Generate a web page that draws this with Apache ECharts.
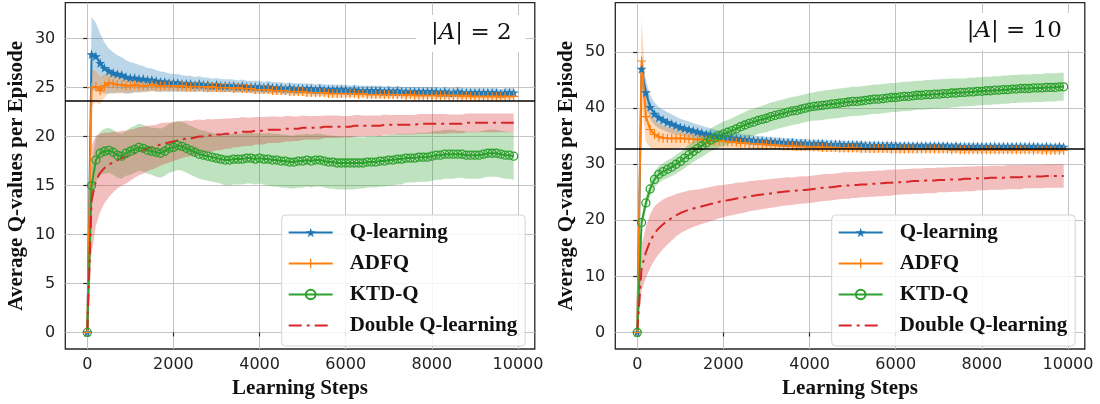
<!DOCTYPE html>
<html>
<head>
<meta charset="utf-8">
<script src="https://cdn.jsdelivr.net/npm/echarts@6/dist/echarts.min.js"></script>
<style>
html, body { margin: 0; padding: 0; background: #fff; }
#chart { width: 1100px; height: 404px; }
</style>
</head>
<body>
<div id="chart"></div>
<script>
// Learning steps at which the Q-value averages were recorded
const steps = [
  0, 100, 200, 300, 400, 500, 600, 700, 800, 900,
  1000, 1100, 1200, 1300, 1400, 1500, 1600, 1700, 1800, 1900,
  2000, 2100, 2200, 2300, 2400, 2500, 2600, 2700, 2800, 2900,
  3000, 3100, 3200, 3300, 3400, 3500, 3600, 3700, 3800, 3900,
  4000, 4100, 4200, 4300, 4400, 4500, 4600, 4700, 4800, 4900,
  5000, 5100, 5200, 5300, 5400, 5500, 5600, 5700, 5800, 5900,
  6000, 6100, 6200, 6300, 6400, 6500, 6600, 6700, 6800, 6900,
  7000, 7100, 7200, 7300, 7400, 7500, 7600, 7700, 7800, 7900,
  8000, 8100, 8200, 8300, 8400, 8500, 8600, 8700, 8800, 8900,
  9000, 9100, 9200, 9300, 9400, 9500, 9600, 9700, 9800, 9900
];

const methodNames = ['Q-learning', 'ADFQ', 'KTD-Q', 'Double Q-learning'];
const panelActionCounts = ['2', '10'];

// Tick values
const xTicks = [0, 2000, 4000, 6000, 8000, 10000];
const yTicksA2 = [0, 5, 10, 15, 20, 25, 30];
const yTicksA10 = [0, 10, 20, 30, 40, 50];

// True optimal Q-value reference lines
const optimalA2 = 23.7;
const optimalA10 = 32.8;

// ---------- |A| = 2 : means and standard deviations ----------
const qLearnA2 = [
  0, 28.4, 28.2, 27.5, 27.0, 26.7, 26.5, 26.4, 26.3, 26.1,
  26.0, 26.0, 25.9, 25.9, 25.8, 25.8, 25.7, 25.6, 25.6, 25.5,
  25.5, 25.5, 25.4, 25.4, 25.4, 25.3, 25.4, 25.3, 25.3, 25.2,
  25.3, 25.2, 25.2, 25.2, 25.2, 25.1, 25.2, 25.1, 25.1, 25.1,
  25.1, 25.0, 25.1, 25.0, 25.0, 25.0, 24.9, 25.0, 24.9, 24.9,
  24.9, 24.9, 24.9, 24.8, 24.9, 24.8, 24.8, 24.8, 24.8, 24.8,
  24.8, 24.7, 24.8, 24.7, 24.7, 24.7, 24.7, 24.7, 24.7, 24.6,
  24.7, 24.6, 24.7, 24.6, 24.6, 24.6, 24.6, 24.6, 24.6, 24.6,
  24.6, 24.6, 24.5, 24.6, 24.5, 24.5, 24.6, 24.5, 24.5, 24.5,
  24.5, 24.5, 24.5, 24.5, 24.5, 24.5, 24.4, 24.5, 24.5, 24.5
];
const qLearnA2Std = [
  0, 3.8, 3.4, 3.0, 2.6, 2.3, 2.1, 1.9, 1.8, 1.7,
  1.6, 1.5, 1.4, 1.3, 1.2, 1.15, 1.1, 1.05, 1.0, 0.95,
  0.9, 0.88, 0.85, 0.82, 0.8, 0.78, 0.76, 0.74, 0.72, 0.7,
  0.68, 0.67, 0.66, 0.65, 0.64, 0.63, 0.62, 0.61, 0.6, 0.6,
  0.59, 0.58, 0.58, 0.57, 0.56, 0.56, 0.55, 0.55, 0.54, 0.54,
  0.53, 0.53, 0.52, 0.52, 0.52, 0.51, 0.51, 0.51, 0.5, 0.5,
  0.5, 0.5, 0.49, 0.49, 0.49, 0.49, 0.48, 0.48, 0.48, 0.48,
  0.48, 0.47, 0.47, 0.47, 0.47, 0.47, 0.46, 0.46, 0.46, 0.46,
  0.46, 0.46, 0.45, 0.45, 0.45, 0.45, 0.45, 0.45, 0.44, 0.44,
  0.44, 0.44, 0.44, 0.44, 0.43, 0.43, 0.43, 0.43, 0.43, 0.43
];
const adfqA2 = [
  0, 25.0, 25.1, 24.7, 25.2, 25.5, 25.4, 25.3, 25.3, 25.2,
  25.2, 25.3, 25.2, 25.2, 25.2, 25.3, 25.2, 25.2, 25.2, 25.2,
  25.2, 25.1, 25.2, 25.1, 25.1, 25.1, 25.1, 25.1, 25.0, 25.1,
  25.0, 25.0, 25.0, 25.0, 24.9, 25.0, 24.9, 24.9, 24.9, 24.8,
  24.8, 24.8, 24.8, 24.7, 24.7, 24.7, 24.7, 24.6, 24.6, 24.6,
  24.6, 24.5, 24.5, 24.5, 24.5, 24.5, 24.4, 24.4, 24.4, 24.4,
  24.4, 24.4, 24.4, 24.3, 24.4, 24.3, 24.3, 24.3, 24.3, 24.3,
  24.3, 24.3, 24.3, 24.3, 24.2, 24.3, 24.2, 24.2, 24.2, 24.2,
  24.2, 24.2, 24.2, 24.2, 24.2, 24.2, 24.2, 24.1, 24.2, 24.1,
  24.1, 24.1, 24.1, 24.1, 24.1, 24.1, 24.1, 24.1, 24.1, 24.1
];
const adfqA2Std = [
  0, 1.9, 1.6, 1.4, 1.2, 1.05, 0.95, 0.9, 0.85, 0.8,
  0.76, 0.73, 0.7, 0.68, 0.66, 0.64, 0.62, 0.6, 0.58, 0.57,
  0.56, 0.55, 0.54, 0.53, 0.52, 0.51, 0.5, 0.5, 0.49, 0.48,
  0.48, 0.47, 0.47, 0.46, 0.46, 0.45, 0.45, 0.44, 0.44, 0.44,
  0.43, 0.43, 0.43, 0.42, 0.42, 0.42, 0.41, 0.41, 0.41, 0.4,
  0.4, 0.4, 0.4, 0.39, 0.39, 0.39, 0.39, 0.38, 0.38, 0.38,
  0.38, 0.38, 0.37, 0.37, 0.37, 0.37, 0.37, 0.36, 0.36, 0.36,
  0.36, 0.36, 0.36, 0.35, 0.35, 0.35, 0.35, 0.35, 0.35, 0.35,
  0.34, 0.34, 0.34, 0.34, 0.34, 0.34, 0.34, 0.34, 0.34, 0.34,
  0.34, 0.34, 0.33, 0.33, 0.33, 0.33, 0.33, 0.33, 0.33, 0.33
];
const ktdA2 = [
  0, 15.0, 17.6, 18.3, 18.5, 18.6, 18.4, 18.1, 18.0, 18.3,
  18.5, 18.7, 18.9, 18.8, 18.6, 18.5, 18.4, 18.3, 18.5, 18.8,
  18.9, 19.1, 19.0, 18.8, 18.6, 18.4, 18.2, 18.1, 18.0, 17.9,
  17.8, 17.7, 17.6, 17.6, 17.7, 17.7, 17.7, 17.8, 17.8, 17.7,
  17.8, 17.7, 17.7, 17.6, 17.6, 17.5, 17.5, 17.4, 17.4, 17.5,
  17.5, 17.6, 17.5, 17.6, 17.6, 17.5, 17.4, 17.4, 17.3, 17.3,
  17.3, 17.3, 17.3, 17.3, 17.3, 17.4, 17.4, 17.4, 17.5, 17.5,
  17.6, 17.6, 17.7, 17.7, 17.8, 17.8, 17.8, 17.9, 17.9, 17.9,
  18.0, 18.1, 18.1, 18.2, 18.2, 18.2, 18.2, 18.2, 18.1, 18.1,
  18.1, 18.1, 18.2, 18.3, 18.3, 18.3, 18.2, 18.1, 18.1, 18.0
];
const ktdA2Std = [
  0, 2.0, 2.2, 2.2, 2.3, 2.3, 2.3, 2.3, 2.3, 2.3,
  2.4, 2.4, 2.4, 2.4, 2.4, 2.4, 2.5, 2.5, 2.5, 2.5,
  2.5, 2.5, 2.5, 2.5, 2.5, 2.5, 2.5, 2.5, 2.5, 2.5,
  2.5, 2.5, 2.6, 2.6, 2.6, 2.6, 2.6, 2.6, 2.6, 2.6,
  2.6, 2.6, 2.7, 2.7, 2.7, 2.7, 2.7, 2.7, 2.7, 2.7,
  2.7, 2.7, 2.7, 2.7, 2.7, 2.7, 2.7, 2.7, 2.7, 2.7,
  2.7, 2.7, 2.7, 2.6, 2.6, 2.6, 2.6, 2.6, 2.6, 2.6,
  2.6, 2.6, 2.6, 2.6, 2.5, 2.5, 2.5, 2.5, 2.5, 2.5,
  2.5, 2.5, 2.5, 2.5, 2.5, 2.5, 2.4, 2.4, 2.4, 2.4,
  2.4, 2.4, 2.4, 2.4, 2.4, 2.4, 2.4, 2.4, 2.4, 2.4
];
const doubleQA2 = [
  0, 13.5, 15.5, 16.3, 16.8, 17.1, 17.4, 17.6, 17.8, 17.9,
  18.1, 18.3, 18.5, 18.6, 18.8, 18.9, 19.0, 19.2, 19.3, 19.4,
  19.5, 19.6, 19.7, 19.8, 19.8, 19.9, 20.0, 20.0, 20.1, 20.1,
  20.2, 20.2, 20.3, 20.3, 20.4, 20.4, 20.5, 20.5, 20.5, 20.6,
  20.6, 20.6, 20.7, 20.7, 20.7, 20.7, 20.8, 20.8, 20.8, 20.8,
  20.9, 20.9, 20.9, 20.9, 20.9, 21.0, 21.0, 21.0, 21.0, 21.0,
  21.0, 21.0, 21.1, 21.1, 21.1, 21.1, 21.1, 21.1, 21.1, 21.2,
  21.2, 21.2, 21.2, 21.2, 21.2, 21.2, 21.2, 21.3, 21.3, 21.3,
  21.3, 21.3, 21.3, 21.3, 21.3, 21.3, 21.3, 21.3, 21.4, 21.4,
  21.4, 21.4, 21.4, 21.4, 21.4, 21.4, 21.4, 21.4, 21.4, 21.4
];
const doubleQA2Std = [
  0, 5.5, 4.6, 4.0, 3.6, 3.3, 3.1, 2.9, 2.8, 2.7,
  2.6, 2.5, 2.45, 2.4, 2.3, 2.25, 2.2, 2.15, 2.1, 2.05,
  2.0, 1.95, 1.9, 1.85, 1.8, 1.8, 1.75, 1.7, 1.7, 1.65,
  1.6, 1.6, 1.55, 1.55, 1.5, 1.5, 1.5, 1.45, 1.45, 1.4,
  1.4, 1.4, 1.35, 1.35, 1.35, 1.3, 1.3, 1.3, 1.25, 1.25,
  1.25, 1.2, 1.2, 1.2, 1.2, 1.15, 1.15, 1.15, 1.15, 1.1,
  1.1, 1.1, 1.1, 1.1, 1.05, 1.05, 1.05, 1.05, 1.05, 1.05,
  1.0, 1.0, 1.0, 1.0, 1.0, 1.0, 1.0, 1.0, 1.0, 1.0,
  1.0, 1.0, 1.0, 1.0, 0.95, 0.95, 0.95, 0.95, 0.95, 0.95,
  0.95, 0.95, 0.95, 0.95, 0.95, 0.95, 0.95, 0.95, 0.95, 0.95
];

// ---------- |A| = 10 : means and standard deviations ----------
const qLearnA10 = [
  0, 47.0, 42.8, 40.2, 39.0, 38.3, 37.9, 37.5, 37.2, 36.9,
  36.6, 36.4, 36.2, 36.0, 35.8, 35.6, 35.4, 35.3, 35.1, 35.0,
  34.9, 34.8, 34.7, 34.6, 34.5, 34.4, 34.4, 34.3, 34.2, 34.2,
  34.1, 34.1, 34.0, 34.0, 33.9, 33.9, 33.9, 33.8, 33.8, 33.8,
  33.7, 33.7, 33.7, 33.7, 33.6, 33.6, 33.6, 33.6, 33.5, 33.5,
  33.5, 33.5, 33.5, 33.4, 33.4, 33.4, 33.4, 33.4, 33.4, 33.4,
  33.4, 33.3, 33.3, 33.3, 33.3, 33.3, 33.3, 33.3, 33.3, 33.3,
  33.3, 33.3, 33.3, 33.2, 33.3, 33.2, 33.2, 33.2, 33.2, 33.2,
  33.2, 33.2, 33.2, 33.2, 33.2, 33.2, 33.2, 33.2, 33.2, 33.2,
  33.2, 33.2, 33.2, 33.2, 33.1, 33.2, 33.1, 33.1, 33.2, 33.1
];
const qLearnA10Std = [
  0, 2.5, 2.3, 2.1, 2.0, 1.9, 1.8, 1.75, 1.7, 1.6,
  1.5, 1.45, 1.4, 1.35, 1.3, 1.25, 1.2, 1.15, 1.1, 1.05,
  1.0, 0.98, 0.95, 0.93, 0.9, 0.88, 0.86, 0.84, 0.82, 0.8,
  0.78, 0.77, 0.76, 0.75, 0.74, 0.73, 0.72, 0.71, 0.7, 0.69,
  0.68, 0.67, 0.66, 0.66, 0.65, 0.64, 0.64, 0.63, 0.62, 0.62,
  0.61, 0.61, 0.6, 0.6, 0.59, 0.59, 0.58, 0.58, 0.58, 0.57,
  0.57, 0.56, 0.56, 0.56, 0.55, 0.55, 0.55, 0.54, 0.54, 0.54,
  0.54, 0.53, 0.53, 0.53, 0.53, 0.52, 0.52, 0.52, 0.52, 0.52,
  0.51, 0.51, 0.51, 0.51, 0.51, 0.5, 0.5, 0.5, 0.5, 0.5,
  0.5, 0.5, 0.5, 0.5, 0.5, 0.49, 0.49, 0.49, 0.49, 0.49
];
const adfqA10 = [
  0, 48.4, 38.5, 36.2, 35.3, 34.9, 34.7, 34.6, 34.6, 34.6,
  34.6, 34.6, 34.5, 34.5, 34.4, 34.4, 34.3, 34.3, 34.2, 34.2,
  34.1, 34.0, 34.0, 33.9, 33.8, 33.8, 33.7, 33.7, 33.6, 33.6,
  33.5, 33.5, 33.4, 33.4, 33.3, 33.3, 33.3, 33.2, 33.2, 33.2,
  33.1, 33.1, 33.1, 33.0, 33.0, 33.0, 33.0, 32.9, 32.9, 32.9,
  32.9, 32.9, 32.8, 32.8, 32.8, 32.8, 32.8, 32.8, 32.8, 32.7,
  32.7, 32.7, 32.7, 32.7, 32.7, 32.7, 32.7, 32.7, 32.7, 32.7,
  32.7, 32.7, 32.7, 32.6, 32.7, 32.6, 32.6, 32.6, 32.6, 32.6,
  32.6, 32.6, 32.6, 32.6, 32.6, 32.6, 32.6, 32.6, 32.6, 32.6,
  32.6, 32.6, 32.5, 32.6, 32.5, 32.5, 32.5, 32.5, 32.5, 32.5
];
const adfqA10Std = [
  0, 7.5, 4.5, 3.2, 2.7, 2.4, 2.2, 2.0, 1.9, 1.8,
  1.7, 1.6, 1.55, 1.5, 1.45, 1.4, 1.35, 1.3, 1.25, 1.2,
  1.15, 1.1, 1.08, 1.05, 1.02, 1.0, 0.98, 0.96, 0.94, 0.92,
  0.9, 0.89, 0.88, 0.87, 0.86, 0.85, 0.84, 0.83, 0.82, 0.81,
  0.8, 0.79, 0.78, 0.78, 0.77, 0.76, 0.76, 0.75, 0.74, 0.74,
  0.73, 0.73, 0.72, 0.72, 0.71, 0.71, 0.7, 0.7, 0.7, 0.69,
  0.69, 0.68, 0.68, 0.68, 0.67, 0.67, 0.67, 0.66, 0.66, 0.66,
  0.65, 0.65, 0.65, 0.65, 0.65, 0.64, 0.64, 0.64, 0.64, 0.64,
  0.63, 0.63, 0.63, 0.63, 0.63, 0.62, 0.62, 0.62, 0.62, 0.62,
  0.61, 0.61, 0.61, 0.61, 0.61, 0.6, 0.6, 0.6, 0.6, 0.6
];
const ktdA10 = [
  0, 19.6, 23.1, 25.6, 27.3, 28.2, 28.7, 29.1, 29.5, 30.0,
  30.5, 31.1, 31.7, 32.3, 32.8, 33.3, 33.8, 34.3, 34.7, 35.1,
  35.4, 35.7, 36.0, 36.3, 36.7, 37.0, 37.3, 37.5, 37.8, 38.0,
  38.2, 38.5, 38.7, 38.9, 39.1, 39.3, 39.5, 39.6, 39.8, 40.0,
  40.2, 40.3, 40.4, 40.5, 40.6, 40.7, 40.8, 40.9, 41.0, 41.1,
  41.2, 41.2, 41.3, 41.4, 41.5, 41.6, 41.6, 41.7, 41.8, 41.9,
  41.9, 42.0, 42.1, 42.1, 42.2, 42.3, 42.3, 42.4, 42.4, 42.5,
  42.5, 42.6, 42.6, 42.7, 42.7, 42.8, 42.8, 42.9, 42.9, 43.0,
  43.0, 43.1, 43.1, 43.2, 43.2, 43.3, 43.3, 43.4, 43.4, 43.5,
  43.5, 43.5, 43.6, 43.6, 43.6, 43.7, 43.7, 43.7, 43.8, 43.8
];
const ktdA10Std = [
  0, 1.0, 1.2, 1.3, 1.4, 1.5, 1.5, 1.6, 1.6, 1.7,
  1.7, 1.8, 1.8, 1.9, 1.9, 2.0, 2.0, 2.0, 2.1, 2.1,
  2.2, 2.2, 2.2, 2.3, 2.3, 2.3, 2.4, 2.4, 2.4, 2.4,
  2.5, 2.5, 2.5, 2.5, 2.5, 2.5, 2.5, 2.5, 2.5, 2.5,
  2.5, 2.5, 2.6, 2.6, 2.6, 2.6, 2.6, 2.6, 2.6, 2.6,
  2.6, 2.6, 2.6, 2.6, 2.6, 2.6, 2.6, 2.6, 2.6, 2.6,
  2.6, 2.6, 2.6, 2.6, 2.6, 2.6, 2.6, 2.6, 2.6, 2.6,
  2.6, 2.6, 2.6, 2.6, 2.6, 2.5, 2.5, 2.5, 2.5, 2.5,
  2.5, 2.5, 2.5, 2.5, 2.5, 2.5, 2.5, 2.5, 2.5, 2.5,
  2.5, 2.5, 2.5, 2.5, 2.5, 2.5, 2.5, 2.5, 2.5, 2.5
];
const doubleQA10 = [
  0, 11.5, 14.3, 16.3, 17.7, 18.6, 19.3, 19.9, 20.4, 20.9,
  21.3, 21.6, 21.9, 22.1, 22.3, 22.5, 22.7, 22.9, 23.1, 23.3,
  23.4, 23.6, 23.7, 23.9, 24.0, 24.1, 24.3, 24.4, 24.5, 24.6,
  24.7, 24.8, 24.9, 25.0, 25.1, 25.2, 25.2, 25.3, 25.4, 25.4,
  25.5, 25.6, 25.7, 25.8, 25.9, 25.9, 26.0, 26.1, 26.2, 26.2,
  26.3, 26.3, 26.4, 26.4, 26.5, 26.5, 26.6, 26.6, 26.7, 26.7,
  26.8, 26.8, 26.9, 26.9, 27.0, 27.0, 27.0, 27.1, 27.1, 27.1,
  27.2, 27.2, 27.2, 27.3, 27.3, 27.3, 27.4, 27.4, 27.4, 27.5,
  27.5, 27.5, 27.6, 27.6, 27.6, 27.6, 27.7, 27.7, 27.7, 27.7,
  27.8, 27.8, 27.8, 27.8, 27.8, 27.9, 27.9, 27.9, 27.9, 27.9
];
const doubleQA10Std = [
  0, 4.0, 4.6, 4.8, 4.8, 4.6, 4.4, 4.2, 4.0, 3.8,
  3.6, 3.5, 3.4, 3.3, 3.2, 3.15, 3.1, 3.05, 3.0, 2.95,
  2.9, 2.85, 2.8, 2.8, 2.75, 2.7, 2.7, 2.65, 2.65, 2.6,
  2.6, 2.55, 2.55, 2.5, 2.5, 2.5, 2.45, 2.45, 2.45, 2.4,
  2.4, 2.4, 2.4, 2.4, 2.4, 2.35, 2.35, 2.35, 2.35, 2.35,
  2.3, 2.3, 2.3, 2.3, 2.3, 2.3, 2.3, 2.3, 2.3, 2.3,
  2.25, 2.25, 2.25, 2.25, 2.25, 2.25, 2.25, 2.25, 2.25, 2.25,
  2.2, 2.2, 2.2, 2.2, 2.2, 2.2, 2.2, 2.2, 2.2, 2.2,
  2.15, 2.15, 2.15, 2.15, 2.15, 2.15, 2.15, 2.15, 2.15, 2.15,
  2.1, 2.1, 2.1, 2.1, 2.1, 2.1, 2.1, 2.1, 2.1, 2.1
];

// ---------- styling ----------
const colors = ['#1f77b4', '#ff7f0e', '#2ca02c', '#d62728'];
const bandColors = ['rgba(31,119,180,0.3)', 'rgba(255,127,14,0.3)', 'rgba(44,160,44,0.3)', 'rgba(214,39,40,0.3)'];
const starPath = 'path://M0,-1 L0.225,-0.309 L0.951,-0.309 L0.363,0.118 L0.588,0.809 L0,0.382 L-0.588,0.809 L-0.363,0.118 L-0.951,-0.309 L-0.225,-0.309 Z';
const plusPath = 'path://M-0.13,-1 L0.13,-1 L0.13,-0.13 L1,-0.13 L1,0.13 L0.13,0.13 L0.13,1 L-0.13,1 L-0.13,0.13 L-1,0.13 L-1,-0.13 L-0.13,-0.13 Z';
const serifBold = { fontFamily: 'Liberation Serif', fontWeight: 'bold', fontSize: 21, color: '#111' };

const panels = [
  { means: [qLearnA2, adfqA2, ktdA2, doubleQA2], stds: [qLearnA2Std, adfqA2Std, ktdA2Std, doubleQA2Std],
    optimal: optimalA2, yTicks: yTicksA2, yMin: -1.69, yMax: 33.67, left: 65.3 },
  { means: [qLearnA10, adfqA10, ktdA10, doubleQA10], stds: [qLearnA10Std, adfqA10Std, ktdA10Std, doubleQA10Std],
    optimal: optimalA10, yTicks: yTicksA10, yMin: -2.94, yMax: 58.8, left: 615.3 }
];

// shaded mean ± std band, drawn as one polygon through the axis scales
function bandSeries(p, mean, std, color) {
  const rows = steps.map((s, i) => [s, mean[i] - std[i], mean[i] + std[i]]);
  return {
    type: 'custom', name: 'band', xAxisIndex: p, yAxisIndex: p, silent: true, z: 1,
    clip: true,
    data: rows,
    encode: { x: 0, y: [1, 2] },
    renderItem: function (params, api) {
      if (params.dataIndex !== 0) return;
      const upper = rows.map(r => api.coord([r[0], r[2]]));
      const lower = rows.map(r => api.coord([r[0], r[1]])).reverse();
      return { type: 'polygon', shape: { points: upper.concat(lower) }, style: { fill: color } };
    }
  };
}

function lineSeries(p, k, mean) {
  const base = {
    type: 'line', name: methodNames[k], xAxisIndex: p, yAxisIndex: p, z: 3,
    data: steps.map((s, i) => [s, mean[i]]),
    lineStyle: { color: colors[k], width: 2 }
  };
  if (k === 0) {
    Object.assign(base, { symbol: starPath, symbolSize: 10, symbolKeepAspect: true, itemStyle: { color: colors[k] } });
  } else if (k === 1) {
    Object.assign(base, { symbol: plusPath, symbolSize: 9, itemStyle: { color: colors[k] } });
  } else if (k === 2) {
    Object.assign(base, { symbol: 'circle', symbolSize: 8, itemStyle: { color: 'rgba(255,255,255,0)', borderColor: colors[k], borderWidth: 1.3 } });
  } else {
    Object.assign(base, { symbol: 'none', lineStyle: { color: colors[k], width: 2, type: [13, 5, 3, 5] }, itemStyle: { color: colors[k] } });
  }
  return base;
}

const series = [];
panels.forEach((panel, p) => {
  for (let k = 0; k < 4; k++) series.push(bandSeries(p, panel.means[k], panel.stds[k], bandColors[k]));
  for (let k = 0; k < 4; k++) series.push(lineSeries(p, k, panel.means[k]));
  // optimal value reference line
  series[series.length - 1].markLine = {
    silent: true, symbol: ['none', 'none'], label: { show: false },
    lineStyle: { color: '#000', width: 1.6, type: 'solid' },
    data: [{ yAxis: panel.optimal }]
  };
});

const grids = panels.map(panel => ({
  left: panel.left, top: 2.7, width: 469.5, height: 350,
  show: true, borderColor: '#262626', borderWidth: 1.3, backgroundColor: 'transparent'
}));

const plainNumber = v => String(v);

const xAxes = panels.map((panel, p) => ({
  type: 'value', gridIndex: p, min: -510, max: 10390,
  name: 'Learning Steps', nameLocation: 'middle', nameGap: 29, nameTextStyle: serifBold,
  axisLine: { show: false },
  axisTick: { show: true, length: 4, customValues: xTicks, lineStyle: { color: '#262626', width: 1.2 } },
  axisLabel: { customValues: xTicks, formatter: plainNumber, fontFamily: 'DejaVu Sans', fontSize: 16, color: '#222', margin: 8 },
  splitLine: { show: true, lineStyle: { color: '#c4c4c4', width: 1 } }
}));

const yAxes = panels.map((panel, p) => ({
  type: 'value', gridIndex: p, min: panel.yMin, max: panel.yMax,
  name: 'Average Q-values per Episode', nameLocation: 'middle', nameGap: 38, nameTextStyle: serifBold,
  axisLine: { show: false },
  axisTick: { show: true, length: 4, customValues: panel.yTicks, lineStyle: { color: '#262626', width: 1.2 } },
  axisLabel: { customValues: panel.yTicks, formatter: plainNumber, fontFamily: 'DejaVu Sans', fontSize: 16, color: '#222', margin: 10 },
  splitLine: { show: true, lineStyle: { color: '#c4c4c4', width: 1 } }
}));

// legend entries; the dash-dot entry shows only its line
const legendData = methodNames.map((name, k) =>
  k === 3 ? { name: name, itemStyle: { opacity: 0 } } : { name: name });

const legends = panels.map(panel => ({
  data: legendData, orient: 'vertical', left: panel.left + 216.4, top: 215,
  itemWidth: 44, itemHeight: 12, itemGap: 10,
  padding: [7, 8, 10, 6],
  backgroundColor: 'rgba(255,255,255,0.85)', borderColor: '#d4d4d4', borderWidth: 1, borderRadius: 4,
  textStyle: Object.assign({ padding: [0, 0, 0, 12] }, serifBold),
  selectedMode: false
}));

const titleRich = { i: { fontFamily: 'DejaVu Serif', fontStyle: 'italic', fontSize: 23, color: '#111' } };
const titlePos = [{ left: 416, top: 15 }, { left: 951.7, top: 13 }];
const titles = panelActionCounts.map((n, p) => ({
  text: '|{i|A}| = ' + n, left: titlePos[p].left, top: titlePos[p].top,
  backgroundColor: '#fff', padding: [7, 14, 7, 15],
  textStyle: { fontFamily: 'DejaVu Serif', fontWeight: 'normal', fontSize: 23, color: '#111', rich: titleRich }
}));

const chart = echarts.init(document.getElementById('chart'), null, { renderer: 'canvas' });
chart.setOption({
  animation: false,
  backgroundColor: '#fff',
  title: titles,
  legend: legends,
  grid: grids,
  xAxis: xAxes,
  yAxis: yAxes,
  series: series
});
</script>
</body>
</html>
